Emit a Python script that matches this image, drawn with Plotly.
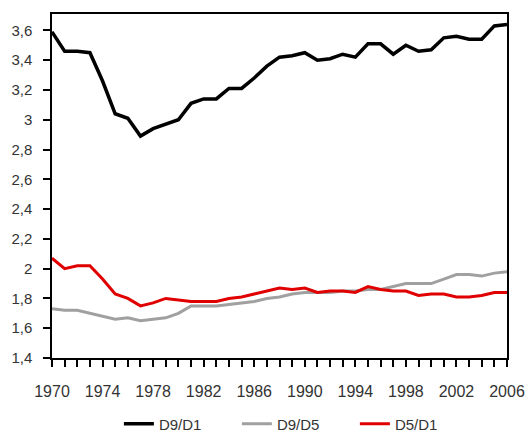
import plotly.graph_objects as go

years = list(range(1970, 2007))
d9_d1 = [3.59, 3.46, 3.46, 3.45, 3.26, 3.04, 3.01, 2.89, 2.94, 2.97, 3.00, 3.11, 3.14, 3.14,
         3.21, 3.21, 3.28, 3.36, 3.42, 3.43, 3.45, 3.40, 3.41, 3.44, 3.42, 3.51, 3.51, 3.44,
         3.50, 3.46, 3.47, 3.55, 3.56, 3.54, 3.54, 3.63, 3.64]
d9_d5 = [1.73, 1.72, 1.72, 1.70, 1.68, 1.66, 1.67, 1.65, 1.66, 1.67, 1.70, 1.75, 1.75, 1.75,
         1.76, 1.77, 1.78, 1.80, 1.81, 1.83, 1.84, 1.84, 1.84, 1.85, 1.85, 1.86, 1.86, 1.88,
         1.90, 1.90, 1.90, 1.93, 1.96, 1.96, 1.95, 1.97, 1.98]
d5_d1 = [2.07, 2.00, 2.02, 2.02, 1.93, 1.83, 1.80, 1.75, 1.77, 1.80, 1.79, 1.78, 1.78, 1.78,
         1.80, 1.81, 1.83, 1.85, 1.87, 1.86, 1.87, 1.84, 1.85, 1.85, 1.84, 1.88, 1.86, 1.85,
         1.85, 1.82, 1.83, 1.83, 1.81, 1.81, 1.82, 1.84, 1.84]
y_ticks = [1.4, 1.6, 1.8, 2.0, 2.2, 2.4, 2.6, 2.8, 3.0, 3.2, 3.4, 3.6]

fig = go.Figure()
fig.add_trace(go.Scatter(x=years, y=d9_d1, name="D9/D1", mode="lines",
                         line=dict(color="#000000", width=3.5)))
fig.add_trace(go.Scatter(x=years, y=d9_d5, name="D9/D5", mode="lines",
                         line=dict(color="#a0a0a0", width=3)))
fig.add_trace(go.Scatter(x=years, y=d5_d1, name="D5/D1", mode="lines",
                         line=dict(color="#e00000", width=3)))

fig.update_layout(
    width=529, height=453,
    margin=dict(l=52, r=22, t=14, b=80),
    paper_bgcolor="white", plot_bgcolor="white",
    separators=", ",
    font=dict(family="Liberation Sans, Arial, sans-serif", size=15, color="#333333"),
    showlegend=True,
    legend=dict(orientation="h", x=0.536, xanchor="center", y=-0.192, yanchor="middle",
                font=dict(size=15, color="#333333"), tracegroupgap=0,
                entrywidth=73, entrywidthmode="pixels"),
    xaxis=dict(range=[1970, 2006], tickmode="linear", tick0=1970, dtick=4, automargin=False,
               showgrid=False, zeroline=False, showline=True, linecolor="#000000", linewidth=1.5,
               mirror=True, ticks="outside", ticklen=7, tickcolor="#000000", tickwidth=1.5,
               ticklabelstandoff=11,
               minor=dict(dtick=1, tick0=1970, ticks="outside", ticklen=7, tickcolor="#000000",
                          tickwidth=1.5, showgrid=False),
               tickfont=dict(size=16, color="#333333")),
    yaxis=dict(range=[1.4, 3.71], tickmode="array", tickvals=y_ticks, automargin=False,
               showgrid=False, zeroline=False, showline=True, linecolor="#000000", linewidth=1.5,
               mirror=True, ticks="outside", ticklen=7, tickcolor="#000000", tickwidth=1.5,
               ticklabelstandoff=8,
               tickfont=dict(size=15, color="#333333")),
)

fig.write_html("out.html", config={"displayModeBar": False},
               post_script="document.body.style.margin='0';document.body.style.overflow='hidden';")
